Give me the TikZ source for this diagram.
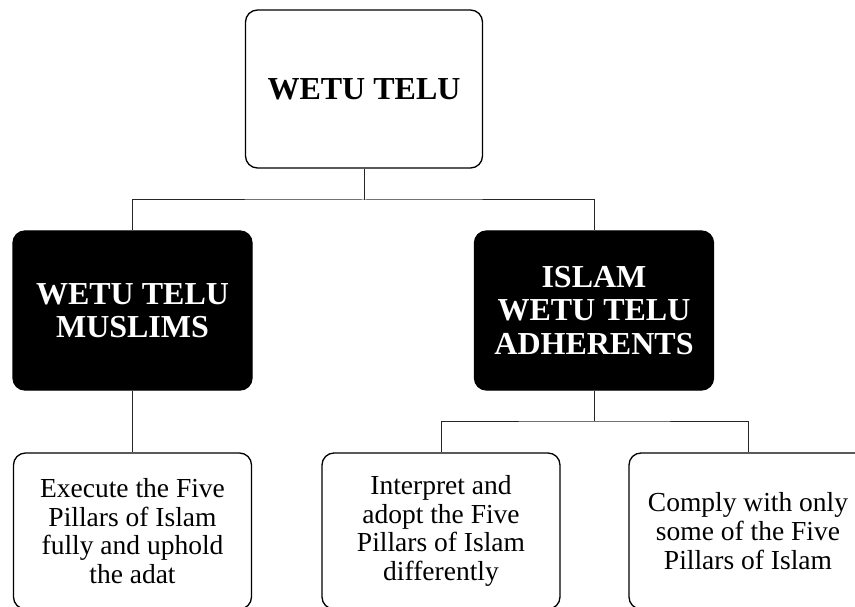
\documentclass[tikz,border=0pt]{standalone}
\usepackage{fontspec}
\setmainfont{Liberation Serif}
\begin{document}
\begin{tikzpicture}[x=1pt,y=-1pt,
  box/.style={draw=black, line width=1.3pt, rounded corners=12pt, align=center,
    inner sep=0pt, anchor=center},
  topbox/.style={box, fill=white, minimum width=237pt, minimum height=158pt,
    font=\fontsize{32}{34}\selectfont\bfseries},
  darkbox/.style={box, fill=black, text=white, minimum width=239pt, minimum height=159pt,
    font=\fontsize{32}{33.5}\selectfont\bfseries},
  leafbox/.style={box, fill=white, minimum width=238pt, minimum height=156pt,
    font=\fontsize{27.5}{28.8}\selectfont},
  link/.style={draw=black!85, line width=1pt}]
  \clip (0,0) rectangle (855,607);
  \fill[white] (0,0) rectangle (855,607);

  % tree nodes
  \node[topbox] (root) at (364,89) {WETU TELU};
  \node[darkbox] (muslims) at (132.5,310.5) {WETU TELU\\MUSLIMS};
  \node[darkbox] (adherents) at (594,310.5) {ISLAM\\WETU TELU\\ADHERENTS};
  \node[leafbox] (execute) at (132.5,531) {Execute the Five\\Pillars of Islam\\fully and uphold\\the adat};
  \node[leafbox] (interpret) at (441,531) {Interpret and\\adopt the Five\\Pillars of Islam\\differently};
  \node[leafbox] (comply) at (748,531) {Comply with only\\some of the Five\\Pillars of Islam};

  % junction points of the branches
  \coordinate (j1) at (364,200);
  \coordinate (j2) at (594,421);

  % connectors
  \draw[link] (root.south) -- (j1);
  \draw[link] (muslims.north) |- (j1) -| (adherents.north);
  \draw[link] (muslims.south) -- (execute.north);
  \draw[link] (adherents.south) -- (j2);
  \draw[link] (interpret.north) |- (j2) -| (comply.north);
\end{tikzpicture}
\end{document}
